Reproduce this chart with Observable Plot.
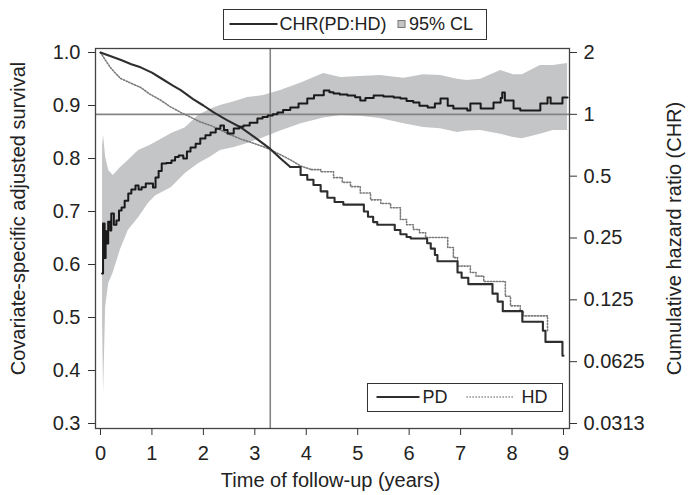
<!DOCTYPE html>
<html><head><meta charset="utf-8">
<script src="https://cdn.jsdelivr.net/npm/d3@7"></script>
<script src="https://cdn.jsdelivr.net/npm/@observablehq/plot@0.6"></script>
<style>
body{margin:0;background:#fff;font-family:"Liberation Sans",Arial,Helvetica,sans-serif;}
#wrap{position:relative;width:689px;height:495px;}
.leg{position:absolute;border:1.5px solid #333;background:#fff;box-sizing:border-box;}
.leg span{position:absolute;top:0;font-size:18px;color:#222;white-space:nowrap;}
.leg svg{position:absolute;left:0;top:0;overflow:visible;}
</style></head><body><div id="wrap"></div>
<script>
// ---- data ----
const pdTime = [0,0.2,0.4,0.6,0.78,1.0,1.2,1.4,1.56,1.8,2.0,2.2,2.45,2.72,3.0,3.3,3.5,3.69,3.89,4.02,4.14,4.28,4.41,4.55,4.72,5.12,5.2,5.3,5.38,5.72,5.83,5.95,6.03,6.35,6.42,6.5,6.55,6.94,7.02,7.15,7.62,7.72,7.82,8.2,8.6,8.65,8.98,9.0];
const pdSurv = [1.0,0.993,0.986,0.978,0.972,0.962,0.95,0.938,0.929,0.912,0.9,0.887,0.873,0.859,0.84,0.818,0.80,0.784,0.769,0.76,0.75,0.738,0.726,0.718,0.713,0.70,0.69,0.68,0.675,0.665,0.657,0.652,0.649,0.64,0.63,0.618,0.606,0.585,0.575,0.563,0.545,0.53,0.512,0.492,0.475,0.454,0.428,0.428];

const hdTime = [0,0.1,0.19,0.3,0.39,0.55,0.78,0.95,1.17,1.35,1.56,1.75,1.94,2.15,2.33,2.5,2.72,3.0,3.25,3.5,3.7,3.89,4.1,4.28,4.53,4.7,4.86,5.05,5.25,5.45,5.64,5.83,5.95,6.08,6.2,6.32,6.75,6.86,6.94,7.19,7.3,7.45,7.87,7.97,8.16,8.22,8.69,8.70];
const hdSurv = [1.0,0.985,0.972,0.96,0.951,0.944,0.934,0.922,0.91,0.898,0.887,0.878,0.869,0.862,0.854,0.846,0.837,0.828,0.819,0.807,0.797,0.786,0.779,0.775,0.764,0.755,0.747,0.735,0.722,0.715,0.707,0.685,0.675,0.666,0.66,0.651,0.632,0.613,0.597,0.585,0.578,0.568,0.54,0.522,0.512,0.503,0.475,0.475];

const chrTime = [0.03,0.05,0.08,0.10,0.12,0.15,0.19,0.21,0.26,0.31,0.36,0.41,0.47,0.54,0.60,0.68,0.74,0.80,0.88,0.97,1.02,1.07,1.13,1.19,1.28,1.38,1.45,1.52,1.61,1.68,1.75,1.85,1.94,2.04,2.14,2.24,2.33,2.40,2.47,2.59,2.70,2.78,2.90,3.05,3.15,3.25,3.35,3.44,3.55,3.69,3.85,4.02,4.15,4.34,4.45,4.53,4.65,4.80,4.95,5.05,5.15,5.31,5.50,5.70,5.83,5.95,6.08,6.20,6.36,6.50,6.61,6.75,6.86,7.13,7.19,7.39,7.64,7.78,7.81,7.86,8.03,8.16,8.45,8.55,8.69,8.75,8.98,9.08];
const chrValue = [0.168,0.294,0.20,0.27,0.235,0.30,0.272,0.329,0.29,0.304,0.34,0.352,0.38,0.412,0.43,0.45,0.43,0.441,0.46,0.46,0.44,0.493,0.53,0.576,0.58,0.596,0.62,0.63,0.61,0.66,0.69,0.72,0.763,0.79,0.816,0.85,0.882,0.84,0.807,0.853,0.87,0.882,0.91,0.955,0.97,0.987,1.0,1.021,1.05,1.079,1.13,1.194,1.24,1.306,1.28,1.263,1.25,1.235,1.21,1.168,1.20,1.235,1.22,1.208,1.194,1.16,1.142,1.10,1.079,1.13,1.194,1.10,1.067,1.044,1.129,1.067,1.142,1.20,1.277,1.168,1.067,1.044,1.044,1.129,1.208,1.129,1.208,1.208];

const clTime  = [0.04,0.06,0.10,0.16,0.25,0.39,0.54,0.74,0.93,1.07,1.38,1.65,1.91,2.14,2.33,2.6,2.86,3.17,3.5,3.9,4.34,4.67,5.05,5.44,5.9,6.28,6.61,6.94,7.13,7.39,7.78,8.03,8.2,8.55,8.8,9.08];
const clUpper = [0.70,0.789,0.62,0.533,0.504,0.551,0.596,0.667,0.70,0.73,0.807,0.86,0.99,1.06,1.104,1.15,1.208,1.235,1.306,1.42,1.58,1.512,1.53,1.546,1.50,1.56,1.546,1.48,1.461,1.48,1.635,1.56,1.56,1.729,1.73,1.77];
const clLower = [0.10,0.0438,0.115,0.150,0.17,0.22,0.272,0.314,0.368,0.40,0.44,0.515,0.576,0.62,0.667,0.69,0.721,0.77,0.83,0.90,0.96,0.987,0.98,0.955,0.90,0.863,0.85,0.816,0.83,0.834,0.80,0.771,0.76,0.80,0.834,0.834];

const xTicks = [0,1,2,3,4,5,6,7,8,9];
const survTicks = [0.3,0.4,0.5,0.6,0.7,0.8,0.9,1.0];
const chrTicks = [2,1,0.5,0.25,0.125,0.0625,0.03125];
const chrTickLabels = ["2","1","0.5","0.25","0.125","0.0625","0.0313"];
const crossTime = 3.3;
// survival curves look continuous while events are dense, stair-stepped afterwards
const pdStepFrom = 3.69;
const hdStepFrom = 4.1;

// ---- build ----
// map the log2 CHR axis (0.03125..2) onto the survival axis (0.3..1.0)
const chrToSurv = c => 1 + (Math.log2(c) - 1) * (0.7 / 6);

const pd = pdTime.map((t, i) => ({t, s: pdSurv[i]}));
const hd = hdTime.map((t, i) => ({t, s: hdSurv[i]}));
const chr = chrTime.map((t, i) => ({t, c: chrValue[i]}));
const cl = clTime.map((t, i) => ({t, lo: clLower[i], hi: clUpper[i]}));

const font = '"Liberation Sans", Arial, Helvetica, sans-serif';
const hdStyle = {x: "t", y: "s", stroke: "#7a7a7a", strokeWidth: 1.6, strokeDasharray: "1.3,1.7"};
const pdStyle = {x: "t", y: "s", stroke: "#2e2e2e", strokeWidth: 2.1};

const chart = Plot.plot({
  width: 689,
  height: 495,
  marginLeft: 95,
  marginRight: 120,
  marginTop: 48,
  marginBottom: 67,
  style: {fontFamily: font, fontSize: "20px", color: "#222", background: "#fff"},
  x: {domain: [-0.097, 9.117]},
  y: {domain: [0.29057, 1.00755]},
  marks: [
    Plot.areaY(cl, {x: "t", y1: d => chrToSurv(d.lo), y2: d => chrToSurv(d.hi), fill: "#c4c5c7", curve: "linear"}),
    Plot.ruleY([chrToSurv(1)], {stroke: "#858585", strokeWidth: 1.6}),
    Plot.ruleX([crossTime], {stroke: "#858585", strokeWidth: 1.6}),
    Plot.line(hd.filter(d => d.t <= hdStepFrom), {...hdStyle, curve: "linear"}),
    Plot.line(hd.filter(d => d.t >= hdStepFrom), {...hdStyle, curve: "step-after"}),
    Plot.line(pd.filter(d => d.t <= pdStepFrom), {...pdStyle, curve: "linear"}),
    Plot.line(pd.filter(d => d.t >= pdStepFrom), {...pdStyle, curve: "step-after"}),
    Plot.line(chr, {x: "t", y: d => chrToSurv(d.c), stroke: "#1a1a1a", strokeWidth: 2, curve: "step-after"}),
    Plot.frame({stroke: "#444", strokeWidth: 1.3}),
    Plot.axisX({ticks: xTicks, tickSize: 7, tickPadding: 10, label: null, stroke: "#333"}),
    Plot.axisY({ticks: survTicks, anchor: "left", tickSize: 7, tickPadding: 8, tickFormat: d3.format(".1f"), label: null, stroke: "#333"}),
    Plot.axisY({ticks: chrTicks.map(chrToSurv), anchor: "right", tickSize: 7, tickPadding: 7, label: null, stroke: "#333",
      tickFormat: d => { const i = chrTicks.findIndex(c => Math.abs(chrToSurv(c) - d) < 1e-9); return i < 0 ? "" : chrTickLabels[i]; }}),
    Plot.text(["Time of follow-up (years)"], {text: d => d, frameAnchor: "bottom", textAnchor: "middle", lineAnchor: "middle", dx: -2, dy: 52, fill: "#222"}),
    Plot.text(["Covariate-specific adjusted survival"], {text: d => d, frameAnchor: "left", textAnchor: "middle", lineAnchor: "middle", rotate: -90, dx: -77, dy: -20, fill: "#222"}),
    Plot.text(["Cumulative hazard ratio (CHR)"], {text: d => d, frameAnchor: "right", textAnchor: "middle", lineAnchor: "middle", rotate: -90, dx: 105, dy: 0, fill: "#222"})
  ]
});

const wrap = document.getElementById("wrap");
chart.style.position = "absolute";
chart.style.left = "0";
chart.style.top = "0";
wrap.appendChild(chart);

// ---- legends (HTML overlays) ----
function legend(box, items) {
  const d = document.createElement("div");
  d.className = "leg";
  Object.assign(d.style, {left: box.left + "px", top: box.top + "px", width: box.w + "px", height: box.h + "px"});
  const inner = box.h - 3;
  const ns = "http://www.w3.org/2000/svg";
  const svg = document.createElementNS(ns, "svg");
  svg.setAttribute("width", box.w);
  svg.setAttribute("height", inner);
  d.appendChild(svg);
  for (const it of items) {
    if (it.kind === "line") {
      const l = document.createElementNS(ns, "line");
      l.setAttribute("x1", it.x1); l.setAttribute("x2", it.x2);
      l.setAttribute("y1", inner / 2); l.setAttribute("y2", inner / 2);
      l.setAttribute("stroke", it.stroke); l.setAttribute("stroke-width", it.sw);
      if (it.dash) l.setAttribute("stroke-dasharray", it.dash);
      svg.appendChild(l);
    } else if (it.kind === "square") {
      const r = document.createElementNS(ns, "rect");
      r.setAttribute("x", it.x); r.setAttribute("y", inner / 2 - 3.5);
      r.setAttribute("width", 7); r.setAttribute("height", 7);
      r.setAttribute("fill", "#c4c5c7"); r.setAttribute("stroke", "#777"); r.setAttribute("stroke-width", 1);
      svg.appendChild(r);
    } else {
      const s = document.createElement("span");
      s.textContent = it.text;
      s.style.left = it.x + "px";
      s.style.lineHeight = inner + "px";
      d.appendChild(s);
    }
  }
  wrap.appendChild(d);
}

legend({left: 223, top: 9, w: 264, h: 31}, [
  {kind: "line", x1: 5.5, x2: 53.5, stroke: "#2a2a2a", sw: 2},
  {kind: "text", x: 55.5, text: "CHR(PD:HD)"},
  {kind: "square", x: 174},
  {kind: "text", x: 185, text: "95% CL"}
]);

legend({left: 367, top: 383, w: 196, h: 29}, [
  {kind: "line", x1: 8.5, x2: 51.5, stroke: "#2e2e2e", sw: 2},
  {kind: "text", x: 54.5, text: "PD"},
  {kind: "line", x1: 98.5, x2: 146.5, stroke: "#7a7a7a", sw: 1.6, dash: "1.3,1.7"},
  {kind: "text", x: 153.5, text: "HD"}
]);
</script>
</body></html>
